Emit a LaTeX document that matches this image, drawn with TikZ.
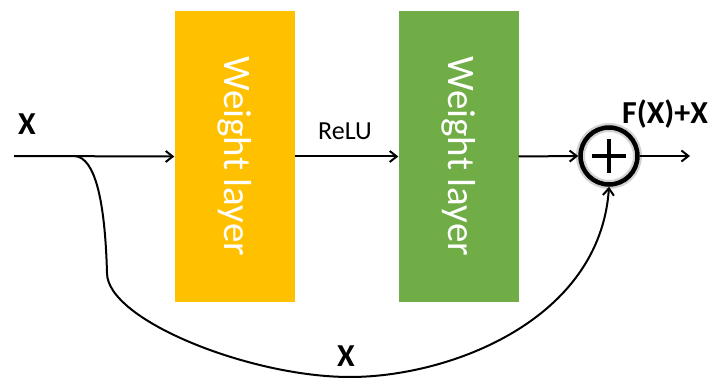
\documentclass[tikz,border=0pt]{standalone}
\usepackage{fontspec}
\setmainfont{Carlito}
\usetikzlibrary{arrows.meta}
\definecolor{wyellow}{HTML}{FFC000}
\definecolor{wgreen}{HTML}{70AD47}
\tikzset{
  layerbox/.style={minimum width=120pt, minimum height=291pt, inner sep=0pt, draw=none},
  layertext/.style={text=white, font=\fontsize{39}{42}\selectfont, rotate=-90},
  conn/.style={line width=2pt, -{Straight Barb[length=7pt,width=11pt]}},
  lbl/.style={font=\fontsize{26}{28}\selectfont, inner sep=0pt},
  blbl/.style={font=\bfseries\fontsize{32}{34}\selectfont, inner sep=0pt},
  sumnode/.style={circle, minimum size=57pt, inner sep=0pt, line width=4.5pt, draw=black}
}
\begin{document}
\begin{tikzpicture}[x=1pt,y=-1pt]
\useasboundingbox (0,0) rectangle (714,379);
% boxes
\node[layerbox, fill=wyellow] (w1) at (234.5,156.5) {};
\node[layerbox, fill=wgreen] (w2) at (458.5,156.5) {};
\node[layertext] (t1) at (w1.center) {Weight layer};
\node[layertext] (t2) at (w2.center) {Weight layer};
% sum node
\draw[gray!35, line width=9pt] (609,156) circle (28.5pt);
\node[sumnode] (sum) at (609,156) {};
\draw[line width=3.5pt] (592,156) -- (626,156);
\draw[line width=3.5pt] (609,139) -- (609,173);
% coordinates
\coordinate (in) at (14,156);
\coordinate (split) at (75,156);
\coordinate (out) at (690,156);
% connectors
\draw[conn] (in) -- (w1.west);
\draw[conn] (w1.east) -- (w2.west);
\draw[conn] (w2.east) -- (sum.west);
\draw[conn] (sum.east) -- (out);
\draw[conn] (split) .. controls (95,158) and (105,200) .. (107,273)
  .. controls (107,320) and (250,377) .. (350,377)
  .. controls (450,377) and (600,320) .. (sum.south);
% labels
\node[blbl] (xin) at (27,124) {X};
\node[lbl] (relu) at (345,131) {ReLU};
\node[blbl] (fx) at (665,114) {F(X)+X};
\node[blbl] (xbot) at (346,356) {X};
\end{tikzpicture}
\end{document}
